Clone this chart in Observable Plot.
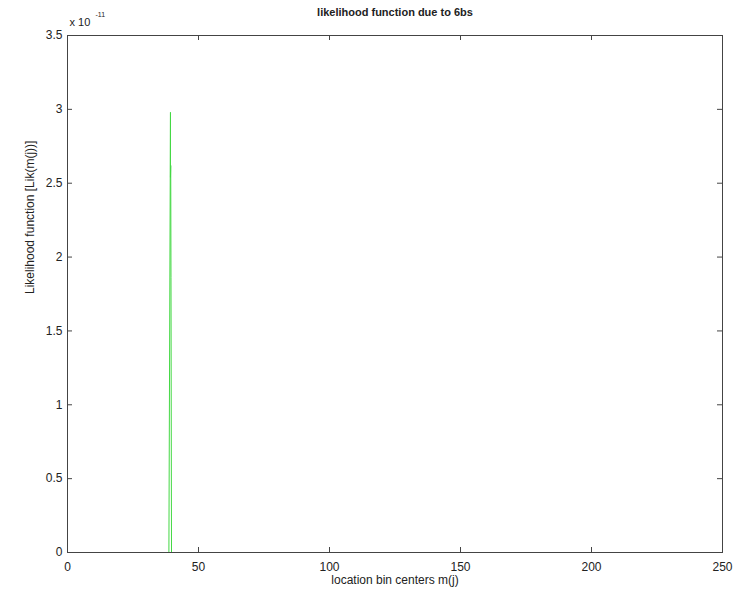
<!DOCTYPE html>
<html>
<head>
<meta charset="utf-8">
<script src="https://cdn.jsdelivr.net/npm/d3@7"></script>
<script src="https://cdn.jsdelivr.net/npm/@observablehq/plot@0.6"></script>
<style>
  html, body { margin: 0; padding: 0; background: #fff; }
  svg { font-family: "Liberation Sans", Arial, sans-serif; }
</style>
</head>
<body>
<div id="chart"></div>
<script>
// location bin centers m(j)
const binCenters = [38.7, 39.3, 39.3, 39.4, 39.5, 39.7];
// likelihood values, in units of 1e-11
const likValues = [0, 2.98, 2.54, 2.62, 1.86, 0];
const xTicks = [0, 50, 100, 150, 200, 250];
const yTicks = [0, 0.5, 1, 1.5, 2, 2.5, 3, 3.5];
const yTickLabels = ["0", "0.5", "1", "1.5", "2", "2.5", "3", "3.5"];

const data = binCenters.map((x, i) => ({x, y: likValues[i]}));

const W = 752, H = 595;
const mL = 67, mR = 30, mT = 35, mB = 43;
const frameH = H - mT - mB;
const frameW = W - mL - mR;
const tickLen = 5;
const axisColor = "#444";

const chart = Plot.plot({
  width: W,
  height: H,
  marginLeft: mL,
  marginRight: mR,
  marginTop: mT,
  marginBottom: mB,
  style: {fontFamily: "'Liberation Sans', Arial, sans-serif", fontSize: "12px", color: "#222", background: "#fff"},
  x: {domain: [0, 250]},
  y: {domain: [0, 3.5]},
  marks: [
    Plot.line(data, {x: "x", y: "y", stroke: "#44d844", strokeWidth: 1}),
    Plot.frame({stroke: axisColor, strokeWidth: 1}),
    // inward ticks bottom and top
    Plot.tickX(xTicks, {x: d => d, stroke: axisColor, insetTop: frameH - tickLen}),
    Plot.tickX(xTicks, {x: d => d, stroke: axisColor, insetBottom: frameH - tickLen}),
    // inward ticks left and right
    Plot.tickY(yTicks, {y: d => d, stroke: axisColor, insetRight: frameW - tickLen}),
    Plot.tickY(yTicks, {y: d => d, stroke: axisColor, insetLeft: frameW - tickLen}),
    Plot.axisX({ticks: xTicks, tickSize: 0, tickPadding: 10, fontSize: 12, label: null}),
    Plot.axisY({ticks: yTicks, tickSize: 0, tickPadding: 5, fontSize: 12, label: null,
                tickFormat: (d) => yTickLabels[yTicks.indexOf(d)]}),
    // x label
    Plot.text(["location bin centers m(j)"], {frameAnchor: "bottom", dy: 31, fontSize: 12, fill: "#222"}),
    // y label
    Plot.text(["Likelihood function [Lik(m(j))]"], {frameAnchor: "left", dx: -37, rotate: -90, fontSize: 12, fill: "#222"}),
    // title
    Plot.text(["likelihood function due to 6bs"], {frameAnchor: "top", dy: -27, fontSize: 11, fontWeight: "bold", fill: "#222"}),
    // exponent
    Plot.text(["x 10"], {frameAnchor: "top-left", dx: 2, dy: -17, textAnchor: "start", fontSize: 11, fill: "#222"}),
    Plot.text(["-11"], {frameAnchor: "top-left", dx: 28, dy: -23, textAnchor: "start", fontSize: 7, fill: "#222"})
  ]
});
document.getElementById("chart").appendChild(chart);
</script>
</body>
</html>
